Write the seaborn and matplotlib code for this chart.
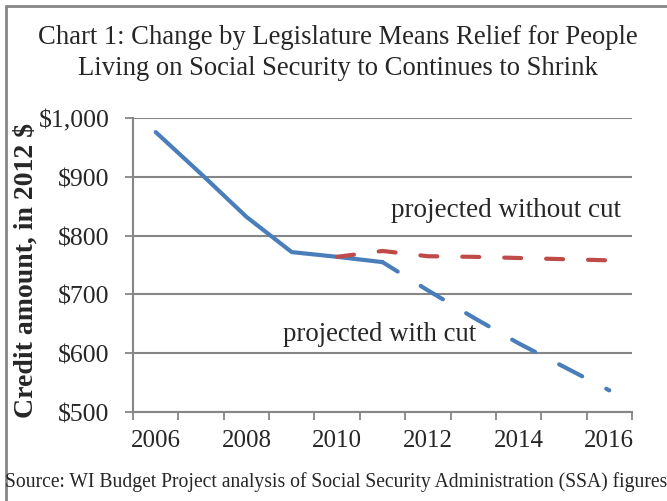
import matplotlib
matplotlib.use("Agg")
import matplotlib.pyplot as plt
import matplotlib.ticker as mticker
from matplotlib.lines import Line2D
import seaborn as sns
import pandas as pd

# Values
actual_years = [2006, 2007, 2008, 2009, 2010, 2011]
actual_credit = [976, 905, 832, 772, 764, 755]
with_cut_years = [2011, 2012, 2013, 2014, 2015, 2016]
with_cut_credit = [755, 707, 661, 617, 577, 537]
without_cut_years = [2010, 2011, 2012, 2013, 2014, 2015, 2016]
without_cut_credit = [764, 774, 765, 764, 762, 760, 758]
x_labels = [2006, 2008, 2010, 2012, 2014, 2016]
y_ticks = [500, 600, 700, 800, 900, 1000]

blue = "#4A7EBB"
red = "#BE4B48"
grey = "#868686"

sns.set_theme(style="white")
plt.rcParams["font.family"] = ["Liberation Serif", "DejaVu Serif"]
plt.rcParams["lines.scale_dashes"] = False

fig = plt.figure(figsize=(6.67, 5.02), dpi=100)
ax = fig.add_axes([0.1994, 0.177, 0.9475 - 0.1994, 0.763 - 0.177])

sns.lineplot(x=actual_years, y=actual_credit, ax=ax, color=blue, lw=3,
             solid_capstyle="round", solid_joinstyle="round")
sns.lineplot(x=with_cut_years, y=with_cut_credit, ax=ax, color=blue, lw=3,
             dash_capstyle="round", linestyle=(5.8, (18.7, 19.5)))
sns.lineplot(x=without_cut_years, y=without_cut_credit, ax=ax, color=red, lw=3,
             dash_capstyle="round", linestyle=(0, (12.2, 18)))

ax.set_xlim(2005.5, 2016.5)
ax.set_ylim(500, 1000)
ax.set_xticks(x_labels)
ax.set_xticklabels([str(y) for y in x_labels], fontsize=18)
ax.xaxis.set_minor_locator(mticker.FixedLocator([y + 0.5 for y in range(2005, 2017)]))
ax.tick_params(axis="x", which="major", length=0, pad=12)
ax.tick_params(axis="x", which="minor", length=6, width=1.3, color=grey, direction="out", bottom=True)
ax.set_yticks(y_ticks)
ax.set_yticklabels([f"${v:,}" for v in y_ticks], fontsize=18.5)
ax.tick_params(axis="y", length=6, width=1.3, color=grey, direction="out", left=True, pad=11)
ax.yaxis.grid(True, color=grey, lw=1.5)
ax.set_axisbelow(True)
for side in ["top", "right"]:
    ax.spines[side].set_visible(False)
for side in ["left", "bottom"]:
    ax.spines[side].set_color(grey)
    ax.spines[side].set_linewidth(1.5)

ax.set_ylabel("Credit amount, in 2012 $", fontsize=20, fontweight="bold")
ax.yaxis.set_label_coords(-0.189, 0.485)

ax.text(2013.73, 845, "projected without cut", fontsize=19.5, ha="center", va="center")
ax.text(2010.93, 634, "projected with cut", fontsize=19.3, ha="center", va="center")

fig.text(0.507, 1 - 53 / 502, "Chart 1: Change by Legislature Means Relief for People\n"
         "Living on Social Security to Continues to Shrink",
         fontsize=19.2, ha="center", va="center", linespacing=1.32)
fig.text(0.008, 1 - 482 / 502,
         "Source: WI Budget Project analysis of Social Security Administration (SSA) figures",
         fontsize=14.1, ha="left", va="center")

fig.add_artist(Line2D([6 / 667, 6 / 667], [0, 1 - 7 / 502], color=grey, lw=2))
fig.add_artist(Line2D([6 / 667, 1], [1 - 7 / 502, 1 - 7 / 502], color=grey, lw=2))

fig.savefig("out.png", dpi=100)
